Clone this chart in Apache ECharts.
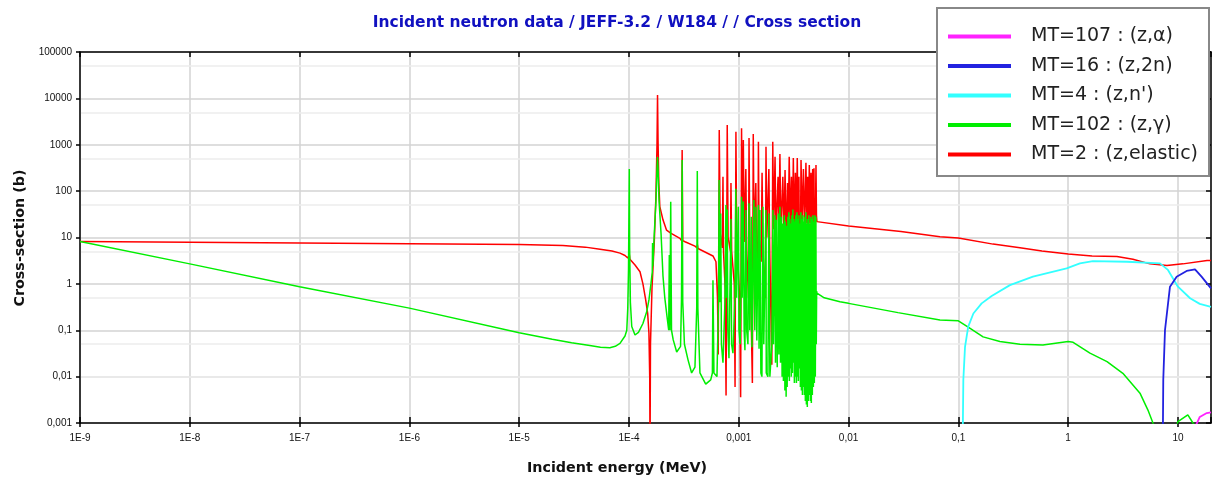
<!DOCTYPE html>
<html><head><meta charset="utf-8">
<script src="https://cdn.jsdelivr.net/npm/echarts@6/dist/echarts.min.js"></script>
<style>html,body{margin:0;padding:0;background:#fff}#c{width:1213px;height:480px}</style>
</head><body><div id="c"></div>
<script>
// ---- tick labels (exponent -> label) ----
const xTickLabels = ['1E-9','1E-8','1E-7','1E-6','1E-5','1E-4','0,001','0,01','0,1','1','10']; // 1e-9 .. 1e1
const yTickLabels = ['0,001','0,01','0,1','1','10','100','1000','10000','100000'];          // 1e-3 .. 1e5
const yMinorGrid = [0.005, 0.05, 0.5, 5, 50, 500, 5000, 50000];

const seriesNames = ['MT=2 : (z,elastic)', 'MT=102 : (z,γ)', "MT=4 : (z,n')", 'MT=16 : (z,2n)', 'MT=107 : (z,α)'];
const legendOrder = ['MT=107 : (z,α)', 'MT=16 : (z,2n)', "MT=4 : (z,n')", 'MT=102 : (z,γ)', 'MT=2 : (z,elastic)'];

// ---- MT=2 elastic [energy MeV, barn] ----
const elasticLow = [[1e-9,8.2],[1e-8,7.9],[1e-7,7.6],[1e-6,7.3],[1e-5,7.1],[2.5e-5,6.7],[4e-5,6.2],[5.45e-5,5.6],[7e-5,5.1],[8.28e-5,4.6],[9.2e-5,4.1],[9.75e-5,3.6]];
const elasticRes = [[1.004e-4,3.3],[1.008e-4,4.3],[1.02e-4,3.4],[1.135e-4,2.55],[1.26e-4,1.83],[1.34e-4,1.0],[1.42e-4,0.45],[1.48e-4,0.23],[1.52e-4,0.086],[1.545e-4,0.01],[1.555e-4,0.0002],[1.57e-4,0.05],[1.62e-4,0.8],[1.70e-4,8],[1.76e-4,80],[1.80e-4,1000],[1.82e-4,11800],[1.84e-4,1200],[1.87e-4,150],[1.91e-4,46],[2.04e-4,24],[2.2e-4,14.4],[2.4e-4,12.4],[2.91e-4,9.6],[3.02e-4,8.5],[3.05e-4,770],[3.09e-4,8.6],[3.24e-4,8.1],[3.99e-4,6.5],[4.17e-4,6.0],[4.20e-4,7.0],[4.25e-4,5.8],[4.43e-4,5.35],[5.82e-4,4.0],[6.2e-4,3.0]];
const elasticDense = [[6.40e-4,0.5],[6.50e-4,0.03],[6.64e-4,2080],[6.78e-4,12],[7.08e-4,6],[7.18e-4,204],[7.26e-4,5],[7.52e-4,0.8],[7.66e-4,0.0039],[7.85e-4,2670],[8.00e-4,10],[8.40e-4,5],[8.49e-4,150],[8.62e-4,5],[9.10e-4,1],[9.25e-4,0.006],[9.42e-4,1910],[9.58e-4,8],[1.02e-3,0.5],[1.04e-3,0.0036],[1.06e-3,2260],[1.08e-3,10],[1.10e-3,1260],[1.12e-3,8],[1.16e-3,300],[1.18e-3,5],[1.225e-3,0.5],[1.24e-3,1400],[1.26e-3,8],[1.33e-3,0.0073],[1.355e-3,1700],[1.38e-3,10],[1.43e-3,150],[1.45e-3,8],[1.49e-3,0.5],[1.51e-3,1160],[1.53e-3,10],[1.60e-3,3],[1.63e-3,250],[1.66e-3,5],[1.75e-3,0.5],[1.77e-3,908],[1.80e-3,10],[1.88e-3,300],[1.91e-3,8],[2.00e-3,0.018],[2.04e-3,1160],[2.08e-3,15],[2.14e-3,552],[2.18e-3,12],[2.28e-3,204],[2.32e-3,10],[2.37e-3,630],[2.42e-3,12],[2.52e-3,204],[2.58e-3,10],[2.64e-3,285],[2.70e-3,8],[2.78e-3,150],[2.82e-3,10],[2.88e-3,552],[2.95e-3,15],[3.02e-3,204],[3.08e-3,10],[3.14e-3,518],[3.20e-3,15],[3.28e-3,250],[3.34e-3,12],[3.41e-3,518],[3.47e-3,15],[3.53e-3,204],[3.60e-3,0.079],[3.69e-3,469],[3.78e-3,20],[3.88e-3,300],[3.98e-3,15],[4.09e-3,410],[4.17e-3,20],[4.24e-3,204],[4.31e-3,15],[4.39e-3,366],[4.47e-3,20],[4.55e-3,250],[4.63e-3,15],[4.71e-3,300],[4.77e-3,20],[4.84e-3,310],[4.90e-3,0.235],[4.98e-3,20],[5.05e-3,366],[5.10e-3,30]];
const elasticHigh = [[5.15e-3,22],[0.01,17.6],[0.03,13.5],[0.068,10.4],[0.1,9.7],[0.207,7.2],[0.364,6.0],[0.577,5.1],[1.0,4.4],[1.65,4.0],[2.78,3.9],[3.89,3.4],[5.56,2.7],[7.94,2.5],[11.1,2.7],[18.4,3.2],[20,3.2]];

// ---- MT=102 capture ----
const captureLow = [[1e-9,8.2],[1e-8,2.7],[1e-7,0.87],[1e-6,0.30],[1e-5,0.088],[2e-5,0.064],[3e-5,0.054],[4.4e-5,0.047],[5.5e-5,0.043],[6.7e-5,0.042],[7.5e-5,0.045],[8.28e-5,0.052],[9.2e-5,0.075],[9.55e-5,0.1],[9.75e-5,0.3],[9.9e-5,2],[1.007e-4,300],[1.014e-4,6],[1.03e-4,0.4],[1.06e-4,0.12],[1.135e-4,0.079],[1.22e-4,0.09],[1.34e-4,0.14],[1.45e-4,0.25],[1.52e-4,0.45],[1.585e-4,1.0],[1.63e-4,1.8],[1.64e-4,7.6],[1.65e-4,2.4],[1.70e-4,12],[1.76e-4,60],[1.80e-4,300],[1.82e-4,545],[1.84e-4,300],[1.88e-4,60],[1.96e-4,12],[2.04e-4,1.5],[2.12e-4,0.5],[2.22e-4,0.2],[2.30e-4,0.1],[2.33e-4,4.2],[2.36e-4,0.1],[2.40e-4,59],[2.44e-4,0.1],[2.53e-4,0.062],[2.72e-4,0.034],[2.95e-4,0.045],[3.01e-4,0.5],[3.05e-4,469],[3.09e-4,0.4],[3.20e-4,0.05],[3.45e-4,0.023],[3.72e-4,0.012],[3.99e-4,0.016],[4.14e-4,0.3],[4.19e-4,272],[4.24e-4,0.3],[4.43e-4,0.012],[5.0e-4,0.0069],[5.55e-4,0.0085],[5.75e-4,0.012]];
const captureDense = [[5.82e-4,1.2],[5.94e-4,0.012],[6.33e-4,0.010],[6.55e-4,0.5],[6.62e-4,174],[6.70e-4,0.4],[6.85e-4,33],[6.95e-4,0.05],[7.18e-4,0.02],[7.48e-4,0.4],[7.64e-4,50],[7.72e-4,0.5],[7.85e-4,40],[7.95e-4,0.1],[8.14e-4,0.025],[8.49e-4,25],[8.60e-4,0.05],[8.85e-4,0.032],[9.23e-4,0.5],[9.40e-4,113],[9.55e-4,0.5],[9.90e-4,46],[1.004e-3,0.1],[1.03e-3,0.05],[1.05e-3,1],[1.06e-3,76],[1.075e-3,0.5],[1.10e-3,60],[1.12e-3,0.1],[1.138e-3,0.037],[1.162e-3,39],[1.18e-3,0.1],[1.212e-3,0.05],[1.238e-3,55],[1.26e-3,0.1],[1.30e-3,28],[1.318e-3,0.043],[1.346e-3,1],[1.374e-3,64],[1.40e-3,0.1],[1.433e-3,46],[1.46e-3,0.06],[1.51e-3,50],[1.53e-3,0.04],[1.558e-3,39],[1.59e-3,0.012],[1.625e-3,0.01],[1.659e-3,46],[1.69e-3,0.05],[1.767e-3,39],[1.78e-3,0.012],[1.842e-3,0.01],[1.88e-3,33],[1.92e-3,0.01],[2.003e-3,0.05],[2.046e-3,39],[2.07e-3,0.05],[2.133e-3,30],[2.16e-3,0.02],[2.20e-3,24],[2.24e-3,0.016],[2.29e-3,33],[2.32e-3,0.03],[2.369e-3,46],[2.40e-3,0.02],[2.45e-3,28],[2.48e-3,0.01],[2.52e-3,20],[2.55e-3,0.008],[2.60e-3,30],[2.63e-3,0.005],[2.66e-3,22],[2.70e-3,0.0037],[2.73e-3,18],[2.76e-3,0.006],[2.80e-3,28],[2.83e-3,0.01],[2.86e-3,35],[2.89e-3,0.008],[2.92e-3,25],[2.95e-3,0.015],[2.98e-3,20],[3.01e-3,0.01],[3.05e-3,30],[3.08e-3,0.012],[3.11e-3,40],[3.14e-3,0.02],[3.18e-3,25],[3.21e-3,0.0073],[3.24e-3,22],[3.28e-3,0.01],[3.31e-3,30],[3.35e-3,0.0073],[3.38e-3,35],[3.42e-3,0.01],[3.45e-3,25],[3.49e-3,0.008],[3.53e-3,30],[3.57e-3,0.015],[3.60e-3,20],[3.64e-3,0.006],[3.68e-3,35],[3.72e-3,0.005],[3.76e-3,25],[3.80e-3,0.004],[3.84e-3,30],[3.88e-3,0.006],[3.92e-3,22],[3.96e-3,0.004],[4.00e-3,28],[4.04e-3,0.003],[4.09e-3,35],[4.13e-3,0.0025],[4.17e-3,20],[4.21e-3,0.0022],[4.26e-3,25],[4.30e-3,0.003],[4.35e-3,30],[4.40e-3,0.004],[4.44e-3,20],[4.49e-3,0.003],[4.54e-3,28],[4.58e-3,0.0027],[4.63e-3,25],[4.68e-3,0.004],[4.73e-3,30],[4.78e-3,0.006],[4.83e-3,22],[4.88e-3,0.0073],[4.93e-3,30],[4.98e-3,0.01],[5.04e-3,28],[5.08e-3,0.05],[5.12e-3,0.7]];
const captureHigh = [[5.15e-3,0.63],[6e-3,0.5],[8.35e-3,0.41],[0.01,0.38],[0.0282,0.24],[0.068,0.167],[0.1,0.16],[0.128,0.11],[0.168,0.072],[0.239,0.057],[0.364,0.05],[0.589,0.048],[1.0,0.057],[1.11,0.055],[1.58,0.032],[2.26,0.021],[3.15,0.0118],[4.51,0.0044],[5.33,0.0019],[5.92,0.001],[6.86,0.0004],[9.0,0.0004],[10,0.00107],[12.3,0.0015],[13.7,0.001],[15.8,0.0006],[20,0.0004]];

// ---- MT=4 inelastic ----
const inelastic = [[0.1085,0.00005],[0.111,0.0085],[0.115,0.044],[0.123,0.12],[0.137,0.23],[0.163,0.38],[0.201,0.55],[0.295,0.94],[0.478,1.43],[0.968,2.16],[1.28,2.77],[1.68,3.1],[3.43,3.0],[6.86,2.77],[8.11,2.0],[10,0.87],[12.9,0.49],[15.8,0.37],[20,0.32]];
// ---- MT=16 (z,2n) ----
const n2n = [[7.25,0.0001],[7.35,0.0085],[7.62,0.1],[8.46,0.87],[9.73,1.43],[12.0,1.9],[14.3,2.05],[16.4,1.43],[20,0.8]];
// ---- MT=107 (z,alpha) ----
const nalpha = [[14.3,0.0008],[15.8,0.00135],[18.3,0.00164],[20,0.0017]];

const elastic = [...elasticLow, ...elasticRes, ...elasticDense, ...elasticHigh];
const capture = [...captureLow, ...captureDense, ...captureHigh];

const colors = ['#ff0000', '#00ee00', '#33ffff', '#2222e0', '#ff22ff'];

function expOf(v) { const e = Math.round(Math.log10(v)); return Math.abs(Math.log10(v) - e) < 1e-6 ? e : null; }
const xFmt = v => { const e = expOf(v); return e === null ? '' : (xTickLabels[e + 9] || ''); };
const yFmt = v => { const e = expOf(v); return e === null ? '' : (yTickLabels[e + 3] || ''); };

const tickFont = { fontFamily: 'Liberation Sans', fontSize: 10, color: '#111' };
const gridLine = { show: true, lineStyle: { color: '#d3d3d3', width: 1.5 } };
const blackLine = { show: true, lineStyle: { color: '#000', width: 1.5 } };

const xBase = { type: 'log', logBase: 10, min: 1e-9, max: 20, interval: 1, gridIndex: 0 };
const yBase = { type: 'log', logBase: 10, min: 0.001, max: 100000, interval: 1, gridIndex: 0 };

const mkLine = (name, data, color, w, z) => ({
  name, type: 'line', data, symbol: 'none', showSymbol: false, silent: true, animation: false,
  lineStyle: { color, width: w }, itemStyle: { color }, z, emphasis: { disabled: true }, clip: true
});

const option = {
  animation: false,
  grid: { left: 80, top: 52, width: 1131, height: 371, containLabel: false },
  xAxis: [
    Object.assign({}, xBase, { position: 'bottom', axisLine: blackLine, axisTick: { show: true, inside: false, length: 4, lineStyle: { color: '#000', width: 1.5 } },
      axisLabel: { show: true, formatter: xFmt, margin: 10, showMaxLabel: false, ...tickFont }, splitLine: gridLine, minorTick: { show: false } }),
    Object.assign({}, xBase, { position: 'top', axisLine: blackLine, axisTick: { show: true, inside: true, length: 5, lineStyle: { color: '#000', width: 1.5 } },
      axisLabel: { show: false }, splitLine: { show: false } }),
    Object.assign({}, xBase, { position: 'bottom', axisLine: { show: false }, axisTick: { show: true, inside: true, length: 6, lineStyle: { color: '#000', width: 1.5 } },
      axisLabel: { show: false }, splitLine: { show: false } })
  ],
  yAxis: [
    Object.assign({}, yBase, { position: 'left', axisLine: blackLine, axisTick: { show: true, inside: false, length: 4, lineStyle: { color: '#000', width: 1.5 } },
      axisLabel: { show: true, formatter: yFmt, margin: 8, ...tickFont }, splitLine: gridLine }),
    Object.assign({}, yBase, { position: 'right', axisLine: blackLine, axisTick: { show: true, inside: true, length: 5, lineStyle: { color: '#000', width: 1.5 } },
      axisLabel: { show: false }, splitLine: { show: false } })
  ],
  legend: {
    data: legendOrder, orient: 'vertical', left: 948, top: 27, padding: 0, itemGap: 10.5,
    itemWidth: 63, itemHeight: 4, icon: 'rect', selectedMode: false, z: 10,
    textStyle: { fontFamily: 'DejaVu Sans', fontSize: 19, color: '#222', padding: [0, 0, 0, 15] }
  },
  graphic: [
    { type: 'rect', z: 5, shape: { x: 937, y: 8, width: 272, height: 168 }, style: { fill: '#fff', stroke: '#888', lineWidth: 2 } },
    { type: 'text', z: 6, x: 617, y: 23, style: { text: 'Incident neutron data / JEFF-3.2 / W184 / / Cross section', fill: '#1010c0', font: 'bold 15.5px "DejaVu Sans"', align: 'center', verticalAlign: 'middle' } },
    { type: 'text', z: 6, x: 617, y: 468, style: { text: 'Incident energy (MeV)', fill: '#111', font: 'bold 14.3px "DejaVu Sans"', align: 'center', verticalAlign: 'middle' } },
    { type: 'text', z: 6, x: 20, y: 238, rotation: Math.PI / 2, style: { text: 'Cross-section (b)', fill: '#111', font: 'bold 14.3px "DejaVu Sans"', align: 'center', verticalAlign: 'middle' } }
  ],
  series: [
    { name: 'minorgrid', type: 'line', data: [], symbol: 'none', silent: true, z: 0, animation: false,
      markLine: { silent: true, z: 0, symbol: ['none', 'none'], animation: false, label: { show: false },
        lineStyle: { color: '#ececec', width: 1.5, type: 'solid' }, emphasis: { disabled: true },
        data: yMinorGrid.map(v => ({ yAxis: v })) } },
    mkLine(seriesNames[0], elastic, colors[0], 1.5, 2),
    mkLine(seriesNames[1], capture, colors[1], 1.5, 3),
    mkLine(seriesNames[2], inelastic, colors[2], 1.8, 4),
    mkLine(seriesNames[3], n2n, colors[3], 1.8, 5),
    mkLine(seriesNames[4], nalpha, colors[4], 1.8, 6)
  ]
};
const chart = echarts.init(document.getElementById('c'), null, { renderer: 'canvas' });
chart.setOption(option);
</script></body></html>
